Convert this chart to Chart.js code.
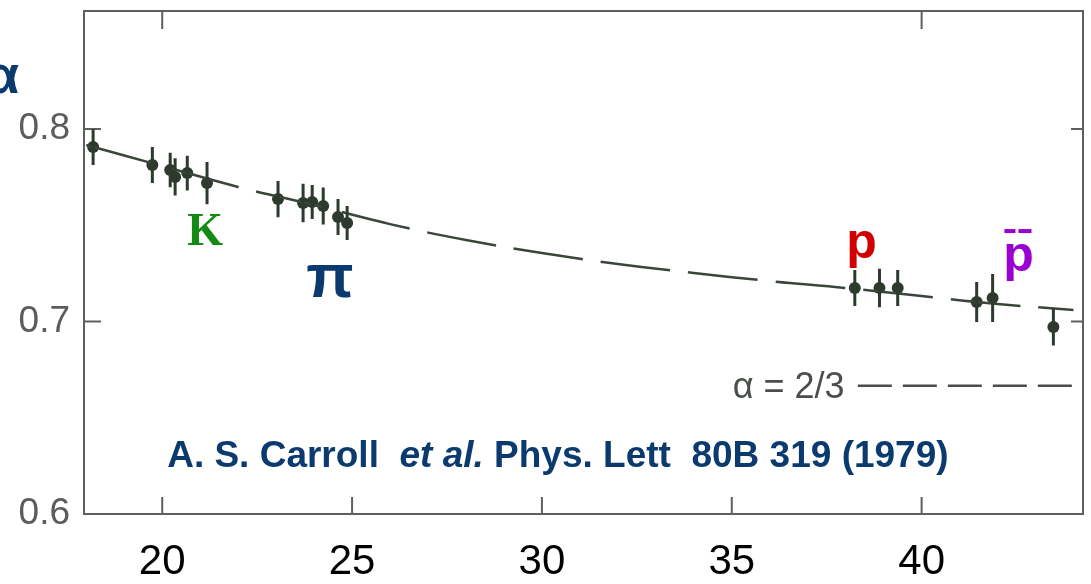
<!DOCTYPE html>
<html>
<head>
<meta charset="utf-8">
<script src="https://cdn.jsdelivr.net/npm/chart.js"></script>
<style>
  body { margin: 0; background: #fff; }
  canvas { display: block; }
</style>
</head>
<body>
<canvas id="alphaChart" width="1091" height="584"></canvas>
<script>
// Medições de alfa (x = momento do feixe), com barras de erro
const ptX   = [18.18, 19.74, 20.21, 20.34, 20.66, 21.18, 23.05, 23.71, 23.95, 24.24, 24.63, 24.87, 38.24, 38.89, 39.37, 41.45, 41.87, 43.47];
const ptY   = [0.7906, 0.7813, 0.7787, 0.7751, 0.7771, 0.7719, 0.7636, 0.7616, 0.7621, 0.7600, 0.7543, 0.7512, 0.7174, 0.7174, 0.7174, 0.7101, 0.7122, 0.6971];
const ptErr = [0.0093, 0.0094, 0.0090, 0.0097, 0.0090, 0.0110, 0.0094, 0.0100, 0.0088, 0.0096, 0.0094, 0.0088, 0.0094, 0.0100, 0.0094, 0.0104, 0.0125, 0.0096];

// Curva ajustada (tracejada)
const curveX = [18, 20, 22, 24, 26, 28, 30, 32, 34, 36, 38, 40, 42, 44];
const curveY = [0.7917, 0.7808, 0.7699, 0.7605, 0.7506, 0.7423, 0.7356, 0.7299, 0.7252, 0.7210, 0.7174, 0.7132, 0.7091, 0.7060];

// Limite alfa = 2/3
const limitValue = 2 / 3;
const limitFrom = 38.32;

// Eixos
const xMin = 17.94, xMax = 44.25;
const yMin = 0.6, yMax = 0.8613;
const xTicks = [20, 25, 30, 35, 40];
const xTopTicks = [20, 40];
const yTicks = [0.6, 0.7, 0.8];
const yRightTicks = [0.7, 0.8];

const ink = '#2d3a2d';
const frameColor = '#5c615c';
const navy = '#0b3a6f';

// Moldura, marcas internas, barras de erro e rótulos
const decorPlugin = {
    id: 'decor',
    beforeDatasetsDraw(chart) {
        const { ctx, chartArea: a, scales: { x, y } } = chart;
        ctx.save();
        ctx.strokeStyle = frameColor;
        ctx.lineWidth = 2;
        ctx.strokeRect(a.left, a.top, a.right - a.left, a.bottom - a.top);
        ctx.beginPath();
        xTicks.forEach(v => {
            const px = x.getPixelForValue(v);
            ctx.moveTo(px, a.bottom); ctx.lineTo(px, a.bottom - 17);
        });
        xTopTicks.forEach(v => {
            const px = x.getPixelForValue(v);
            ctx.moveTo(px, a.top); ctx.lineTo(px, a.top + 18);
        });
        yTicks.forEach(v => {
            const py = y.getPixelForValue(v);
            ctx.moveTo(a.left, py); ctx.lineTo(a.left + 17, py);
        });
        yRightTicks.forEach(v => {
            const py = y.getPixelForValue(v);
            ctx.moveTo(a.right, py); ctx.lineTo(a.right - 12, py);
        });
        ctx.stroke();
        ctx.restore();
    },
    afterDatasetsDraw(chart) {
        const { ctx, scales: { x, y } } = chart;
        ctx.save();
        // barras de erro
        ctx.strokeStyle = ink;
        ctx.lineWidth = 3;
        ctx.beginPath();
        ptX.forEach((v, i) => {
            const px = x.getPixelForValue(v);
            ctx.moveTo(px, y.getPixelForValue(ptY[i] + ptErr[i]));
            ctx.lineTo(px, y.getPixelForValue(ptY[i] - ptErr[i]));
        });
        ctx.stroke();

        // alfa no canto
        ctx.fillStyle = navy;
        ctx.font = 'bold 54px "Liberation Sans", Arial, sans-serif';
        ctx.textAlign = 'left';
        ctx.textBaseline = 'alphabetic';
        ctx.fillText('α', -14, 93);

        // partículas
        ctx.textAlign = 'center';
        ctx.fillStyle = '#138a13';
        ctx.font = 'bold 46px "Liberation Serif", "DejaVu Serif", serif';
        ctx.fillText('K', x.getPixelForValue(21.13), y.getPixelForValue(0.7395));

        ctx.fillStyle = navy;
        ctx.font = 'bold 62px "Liberation Sans", Arial, sans-serif';
        ctx.fillText('π', x.getPixelForValue(24.42), y.getPixelForValue(0.7125));

        ctx.fillStyle = '#d00000';
        ctx.font = 'bold 50px "Liberation Sans", Arial, sans-serif';
        ctx.fillText('p', x.getPixelForValue(38.42), y.getPixelForValue(0.733));

        ctx.fillStyle = '#9a00cf';
        const pbx = x.getPixelForValue(42.55);
        const pby = y.getPixelForValue(0.7262);
        ctx.fillText('p', pbx, pby);
        ctx.fillRect(pbx - 14, pby - 42, 11, 4);
        ctx.fillRect(pbx + 0, pby - 42, 13, 4);

        // referência
        ctx.fillStyle = navy;
        const cite = [['A. S. Carroll  ', 'bold'], ['et al.', 'italic bold'], [' Phys. Lett  80B 319 (1979)', 'bold']];
        const citeFont = ' 37px "Liberation Sans", Arial, sans-serif';
        let total = 0;
        cite.forEach(([t, w]) => {
            ctx.font = w + citeFont;
            total += ctx.measureText(t).width;
        });
        let cx = x.getPixelForValue(30.42) - total / 2;
        const cy = y.getPixelForValue(0.6244);
        ctx.textAlign = 'left';
        cite.forEach(([t, w]) => {
            ctx.font = w + citeFont;
            ctx.fillText(t, cx, cy);
            cx += ctx.measureText(t).width;
        });

        // rótulo do limite
        ctx.fillStyle = '#4a4f4a';
        ctx.font = '36px "Liberation Sans", Arial, sans-serif';
        ctx.textAlign = 'right';
        ctx.fillText('α = 2/3', x.getPixelForValue(37.97), y.getPixelForValue(0.6603));
        ctx.restore();
    }
};

window.onload = () => {
    const ctx = document.getElementById('alphaChart').getContext('2d');
    new Chart(ctx, {
        type: 'scatter',
        data: {
            datasets: [{
                label: 'Ajuste',
                data: curveX.map((v, i) => ({ x: v, y: curveY[i] })),
                showLine: true,
                borderColor: '#3b463b',
                borderWidth: 2.5,
                borderDash: [70, 18],
                pointRadius: 0,
                tension: 0.4
            }, {
                label: 'alfa = 2/3',
                data: [{ x: limitFrom, y: limitValue }, { x: xMax, y: limitValue }],
                showLine: true,
                borderColor: '#4a4f4a',
                borderWidth: 2.5,
                borderDash: [34, 11],
                pointRadius: 0
            }, {
                label: 'Medidas',
                data: ptX.map((v, i) => ({ x: v, y: ptY[i] })),
                backgroundColor: ink,
                borderWidth: 0,
                pointRadius: 6
            }]
        },
        options: {
            responsive: false,
            animation: false,
            layout: { padding: { top: 11, right: 8, left: 0, bottom: 0 } },
            plugins: {
                legend: { display: false },
                tooltip: { enabled: false }
            },
            scales: {
                x: {
                    type: 'linear',
                    min: xMin,
                    max: xMax,
                    grid: { display: false, drawTicks: false },
                    border: { display: false },
                    afterBuildTicks: s => { s.ticks = xTicks.map(v => ({ value: v })); },
                    afterFit: s => { s.height = 70; s.paddingLeft = 0; s.paddingRight = 0; },
                    ticks: {
                        color: '#000',
                        padding: 23,
                        maxRotation: 0,
                        font: { family: '"Liberation Sans", Arial, sans-serif', size: 42 }
                    }
                },
                y: {
                    type: 'linear',
                    min: yMin,
                    max: yMax,
                    grid: { display: false, drawTicks: false },
                    border: { display: false },
                    afterBuildTicks: s => { s.ticks = yTicks.map(v => ({ value: v })); },
                    afterFit: s => { s.width = 84; s.paddingTop = 0; s.paddingBottom = 0; },
                    ticks: {
                        color: '#5a5e5a',
                        padding: 14,
                        callback: v => v.toFixed(1),
                        font: { family: '"Liberation Sans", Arial, sans-serif', size: 37 }
                    }
                }
            }
        },
        plugins: [decorPlugin]
    });
};
</script>
</body>
</html>
